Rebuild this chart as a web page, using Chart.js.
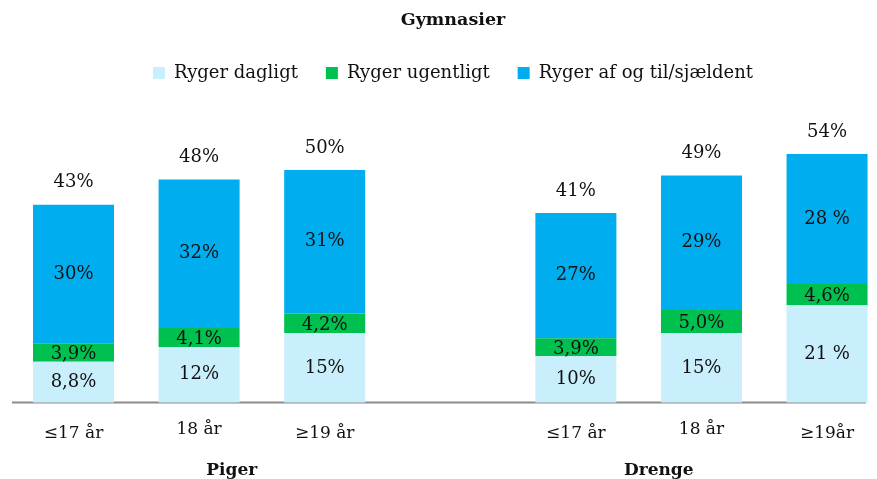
<!DOCTYPE html>
<html><head><meta charset="utf-8">
<script src="https://cdn.jsdelivr.net/npm/chart.js@4/dist/chart.umd.min.js"></script>
<style>html,body{margin:0;padding:0;background:#fff;overflow:hidden}#wrap{width:877px;height:479px;position:relative}</style>
</head><body><div id="wrap"><canvas id="c"></canvas></div>
<script>
// ---- data ----
const categories = ['≤17 år', '18 år', '≥19 år', '', '≤17 år', '18 år', '≥19år'];
const groups = ['Piger', 'Drenge'];
const seriesNames = ['Ryger dagligt', 'Ryger ugentligt', 'Ryger af og til/sjældent'];
const daily = [8.8, 12, 15, null, 10, 15, 21];
const weekly = [3.9, 4.1, 4.2, null, 3.9, 5.0, 4.6];
const occasional = [30, 32, 31, null, 27, 29, 28];
const totals = [43, 48, 50, null, 41, 49, 54];
const dailyLabels = ['8,8%', '12%', '15%', '', '10%', '15%', '21 %'];
const weeklyLabels = ['3,9%', '4,1%', '4,2%', '', '3,9%', '5,0%', '4,6%'];
const occasionalLabels = ['30%', '32%', '31%', '', '27%', '29%', '28 %'];
const totalLabels = ['43%', '48%', '50%', '', '41%', '49%', '54%'];

// ---- styling / layout ----
const colors = ['#C9EEFC', '#00C050', '#00ADEE'];
const groupCenters = [1.26, 4.66];
const tickLineHeights = [20.4, 11.4, 20.4, 20.4, 20.4, 11.4, 20.4]; // px; smaller value lifts that label
const axisFrom = -0.49, axisTo = 6.31;
const serif = "'DejaVu Serif', serif";

function toPoints(arr) {
  return arr.map((v, i) => v == null ? null : { x: i, y: v }).filter(Boolean);
}
const segLabels = [dailyLabels, weeklyLabels, occasionalLabels];

const labelPlugin = {
  id: 'labels',
  beforeDatasetsDraw(chart) {
    const ctx = chart.ctx, xs = chart.scales.x;
    const y = chart.chartArea.bottom;
    ctx.save();
    ctx.strokeStyle = '#8C8C8C';
    ctx.lineWidth = 2;
    ctx.beginPath();
    ctx.moveTo(xs.getPixelForValue(axisFrom), y);
    ctx.lineTo(xs.getPixelForValue(axisTo), y);
    ctx.stroke();
    ctx.restore();
  },
  afterDatasetsDraw(chart) {
    const ctx = chart.ctx;
    ctx.save();
    ctx.fillStyle = '#111';
    ctx.font = '18px ' + serif;
    ctx.textAlign = 'center';
    ctx.textBaseline = 'middle';
    chart.data.datasets.forEach((ds, di) => {
      const meta = chart.getDatasetMeta(di);
      meta.data.forEach((el, j) => {
        const idx = ds.data[j].x;
        const cy = (el.y + el.base) / 2 + (di === 1 ? 2 : 0);
        ctx.fillText(segLabels[di][idx], el.x, cy);
        if (di === chart.data.datasets.length - 1) {
          ctx.fillText(totalLabels[idx], el.x, el.y - 22);
        }
      });
    });
    const xs = chart.scales.x;
    ctx.font = 'bold 17px ' + serif;
    groups.forEach((g, k) => {
      ctx.fillText(g, xs.getPixelForValue(groupCenters[k]), chart.chartArea.bottom + 68);
    });
    ctx.restore();
  }
};

new Chart(document.getElementById('c'), {
  type: 'bar',
  data: {
    datasets: [
      { label: seriesNames[0], data: toPoints(daily), backgroundColor: colors[0] },
      { label: seriesNames[1], data: toPoints(weekly), backgroundColor: colors[1] },
      { label: seriesNames[2], data: toPoints(occasional), backgroundColor: colors[2] }
    ]
  },
  options: {
    responsive: true,
    maintainAspectRatio: false,
    animation: false,
    layout: { padding: { left: 40, right: 11, top: 0, bottom: 14 } },
    datasets: { bar: { categoryPercentage: 1, barPercentage: 0.645, clip: false } },
    plugins: {
      title: {
        display: true, text: 'Gymnasier', color: '#111',
        font: { family: serif, size: 17.5, weight: 'bold' },
        padding: { top: 10, bottom: 5 }
      },
      legend: {
        display: true, position: 'top',
        labels: {
          color: '#111', boxWidth: 12, boxHeight: 12, padding: 28,
          font: { family: serif, size: 18 }
        }
      },
      tooltip: { enabled: false }
    },
    scales: {
      x: {
        type: 'linear', min: -0.2667, max: axisTo, offset: false, stacked: true,
        grid: { display: false, drawTicks: false },
        border: { display: false },
        ticks: {
          stepSize: 1, includeBounds: false, autoSkip: false, maxRotation: 0,
          padding: 21, color: '#111',
          font: (c) => ({ family: serif, size: 17,
            lineHeight: (tickLineHeights[c.tick ? c.tick.value : c.index] || 20.4) + 'px' }),
          callback: (v) => categories[v] !== undefined ? categories[v] : ''
        }
      },
      y: { display: false, stacked: true, min: 0, max: 67 }
    }
  },
  plugins: [labelPlugin]
});
</script></body></html>
